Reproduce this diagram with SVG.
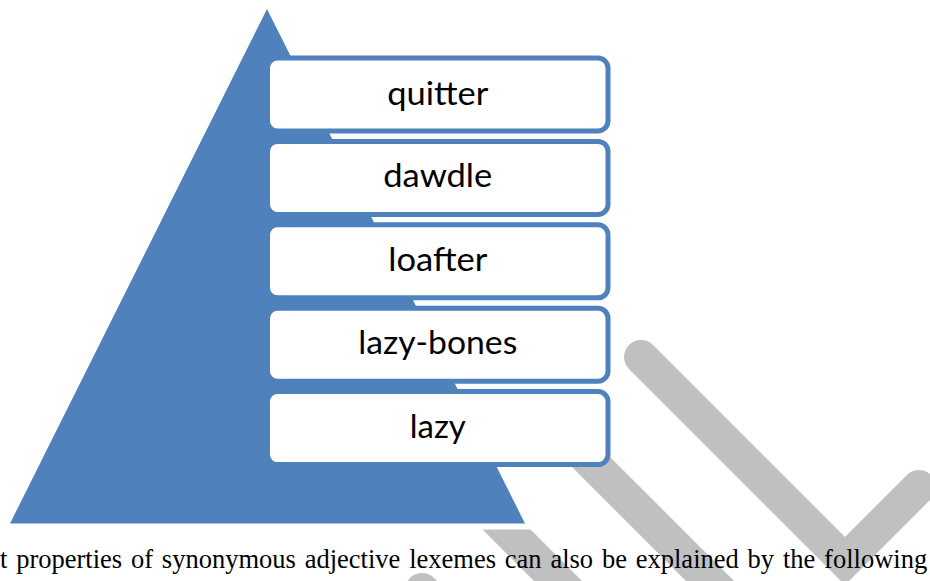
<svg xmlns="http://www.w3.org/2000/svg" width="930" height="581" viewBox="0 0 930 581">
<style>
.stripe{fill:none;stroke:#C0C0C0;stroke-width:34;stroke-linecap:round;stroke-linejoin:miter}
.box rect{fill:#FFFFFF;stroke:#4F81BD;stroke-width:5}
.box text{font-family:Lato,"Open Sans","Liberation Sans",sans-serif;font-size:32px;fill:#000;text-anchor:middle}
.body{font-family:"Liberation Serif","Times New Roman",serif;font-size:26.5px;fill:#000}
</style>
<rect width="930" height="581" fill="#FFFFFF"/>
<g id="watermark">
<path class="stripe" d="M641,357 L845,561 L919,487"/>
<path class="stripe" d="M540,411 L730,601"/>
<polygon points="482.5,529.5 530.5,529.5 601,600 553,600" fill="#C0C0C0"/>
<path class="stripe" d="M422,590 L470,638"/>
</g>
<g id="pyramid">
<polygon points="267,9 10,523.5 525,523.5" fill="#4F81BD"/>
</g>
<g id="node-quitter" class="box">
<rect x="267.5" y="58" width="340.5" height="73" rx="10"/>
<text x="437.75" y="104.5" textLength="101" lengthAdjust="spacingAndGlyphs">quitter</text>
</g>
<g id="node-dawdle" class="box">
<rect x="267.5" y="141.4" width="340.5" height="73" rx="10"/>
<text x="437.75" y="187.4" textLength="109" lengthAdjust="spacingAndGlyphs">dawdle</text>
</g>
<g id="node-loafter" class="box">
<rect x="267.5" y="224.8" width="340.5" height="73" rx="10"/>
<text x="437.75" y="270.8" textLength="99" lengthAdjust="spacingAndGlyphs">loafter</text>
</g>
<g id="node-lazy-bones" class="box">
<rect x="267.5" y="308.2" width="340.5" height="73" rx="10"/>
<text x="437.75" y="354.2" textLength="159" lengthAdjust="spacingAndGlyphs">lazy-bones</text>
</g>
<g id="node-lazy" class="box">
<rect x="267.5" y="391.6" width="340.5" height="73" rx="10"/>
<text x="437.75" y="437.6" textLength="56" lengthAdjust="spacingAndGlyphs">lazy</text>
</g>
<text class="body" x="0" y="568" word-spacing="2.2">t properties of synonymous adjective lexemes can also be explained by the following</text>
</svg>
